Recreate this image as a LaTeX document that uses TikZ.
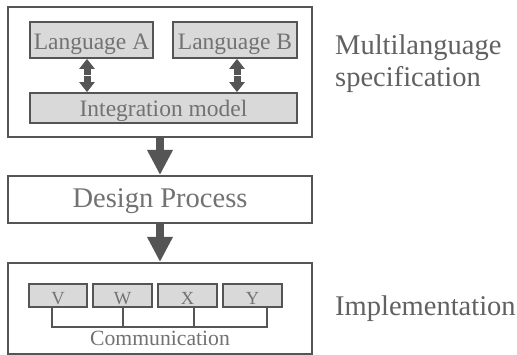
\documentclass[tikz,border=0pt]{standalone}
\usepackage{fontspec}
\setmainfont{Liberation Serif}
\usetikzlibrary{arrows.meta,calc}
\definecolor{ink}{HTML}{555555}
\definecolor{txt}{HTML}{727272}
\definecolor{boxfill}{HTML}{D9D9D9}
\tikzset{
  bigbox/.style={draw=ink, line width=2pt, fill=white, inner sep=0pt},
  graybox/.style={draw=ink, line width=1.8pt, fill=boxfill, inner sep=0pt, text=txt, text depth=0pt},
  smallbox/.style={draw=ink, line width=1.5pt, fill=boxfill, inner sep=0pt, text=txt, text depth=0pt, text height=19pt},
  bigarrow/.style={draw=ink, line width=8pt, -{Triangle[width=24pt,length=25pt]}},
  dblarrow/.style={draw=ink, line width=7pt, -{Triangle[width=15pt,length=10pt]}},
  commline/.style={draw=ink, line width=1.5pt},
  sidelabel/.style={text=txt!85!black, font=\fontsize{28.5}{32}\selectfont, inner sep=0pt, align=left},
}
\begin{document}
\begin{tikzpicture}[x=1pt,y=-1pt]
\useasboundingbox (0,0) rectangle (517,355);
\fill[white] (0,0) rectangle (517,355);
% top block
\node[bigbox, minimum width=304pt, minimum height=130pt] (spec) at (160,72) {};
\node[graybox, text height=20pt, minimum width=123pt, minimum height=36pt, font=\fontsize{23.5}{25}\selectfont] (la) at (91.5,40) {Language A};
\node[graybox, text height=20pt, minimum width=124pt, minimum height=36pt, font=\fontsize{23.5}{25}\selectfont] (lb) at (235,40) {Language B};
\node[graybox, text height=18pt, minimum width=267pt, minimum height=30pt, font=\fontsize{23.5}{25}\selectfont] (im) at (163.5,108) {Integration model};
% double arrows
\coordinate (ma) at ($(im.north -| 87,0)!0.5!(la.south -| 87,0)$);
\coordinate (mb) at ($(im.north -| 237,0)!0.5!(lb.south -| 237,0)$);
\draw[dblarrow] ($(ma)+(0,-0.9)$) -- (la.south -| ma);
\draw[dblarrow] ($(ma)+(0,0.9)$) -- (im.north -| ma);
\draw[dblarrow] ($(mb)+(0,-0.9)$) -- (lb.south -| mb);
\draw[dblarrow] ($(mb)+(0,0.9)$) -- (im.north -| mb);
% design process
\node[bigbox, minimum width=304pt, minimum height=47pt, text=txt, text depth=0pt, text height=17pt, font=\fontsize{28.5}{30}\selectfont] (dp) at (160,199.5) {Design Process};
% implementation
\node[bigbox, minimum width=304pt, minimum height=91pt] (impl) at (160,308.5) {};
\node[smallbox, minimum width=58pt, minimum height=23pt, font=\fontsize{18.5}{20}\selectfont] (v) at (58,295.5) {V};
\node[smallbox, minimum width=59pt, minimum height=23pt, font=\fontsize{18.5}{20}\selectfont] (w) at (122.5,295.5) {W};
\node[smallbox, minimum width=59pt, minimum height=23pt, font=\fontsize{18.5}{20}\selectfont] (x) at (187.5,295.5) {X};
\node[smallbox, minimum width=59pt, minimum height=23pt, font=\fontsize{18.5}{20}\selectfont] (y) at (252.5,295.5) {Y};
\coordinate (cv) at ($(v.south)+(-6,0)$);
\coordinate (cw) at ($(w.south)+(0.5,0)$);
\coordinate (cx) at ($(x.south)+(6.5,0)$);
\coordinate (cy) at ($(y.south)+(14.5,0)$);
\draw[commline] (cv) -- ++(0,19.5) coordinate (hv) -- (hv -| cy) coordinate (hy) -- (cy);
\draw[commline] (cw) -- (cw |- hv);
\draw[commline] (cx) -- (cx |- hv);
\node[text=txt, font=\fontsize{21.7}{23}\selectfont, inner sep=0pt, anchor=base] (comm) at (160,346) {Communication};
% big arrows
\draw[bigarrow] (spec.south) -- (dp.north);
\draw[bigarrow] (dp.south) -- (impl.north);
% side labels
\node[sidelabel, anchor=base west] (ml) at (335,87) {Multilanguage\\specification};
\node[sidelabel, anchor=base west] (imp) at (335,316) {Implementation};
\end{tikzpicture}
\end{document}
